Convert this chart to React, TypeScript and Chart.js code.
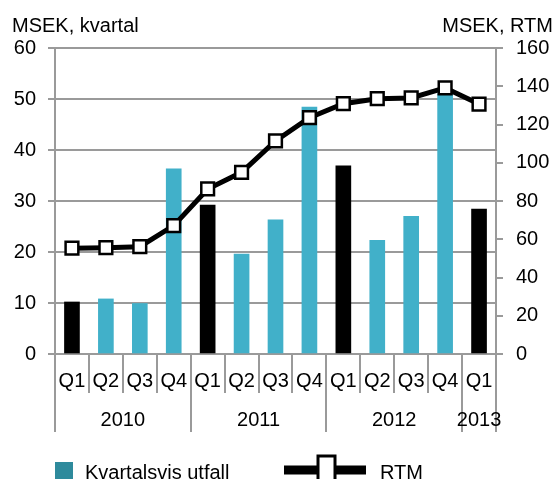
import React, { useEffect, useRef } from "react";
import { Chart, registerables } from "chart.js";

Chart.register(...registerables);

const quarters = ["Q1", "Q2", "Q3", "Q4", "Q1", "Q2", "Q3", "Q4", "Q1", "Q2", "Q3", "Q4", "Q1"];
const years = ["2010", "2011", "2012", "2013"];
const yearStarts = [0, 4, 8, 12];
const yearEnds = [4, 8, 12, 13];
const quarterly = [10.2, 10.8, 9.9, 36.3, 29.2, 19.6, 26.3, 48.4, 36.9, 22.3, 27.0, 51.0, 28.4];
const rtm = [55.3, 55.6, 56.1, 67.1, 86.3, 95.0, 111.4, 123.6, 130.9, 133.5, 133.9, 139.1, 130.7];
const leftTicks = { min: 0, max: 60, step: 10 };
const rightTicks = { min: 0, max: 160, step: 20 };
const legendLabels = ["Kvartalsvis utfall", "RTM"];
const axisTitles = ["MSEK, kvartal", "MSEK, RTM"];

const FONT = '"Liberation Sans", Arial, sans-serif';
const GRID = "#9a9a9a";
const BLUE = "#41b0c9";
const LEGEND_TEAL = "#2e8a9c";

export default function App() {
  const ref = useRef<HTMLCanvasElement | null>(null);

  useEffect(() => {
    if (!ref.current) return;
    const decor = {
      id: "decor",
      afterDraw(chart: any) {
        const ctx = chart.ctx as CanvasRenderingContext2D;
        const x = chart.scales.x;
        const area = chart.chartArea;
        const n = quarters.length;
        const w = (area.right - area.left) / n;
        const bound = (i: number) => area.left + i * w;
        ctx.save();
        ctx.strokeStyle = GRID;
        ctx.lineWidth = 2;
        const yearBounds = new Set<number>([0, ...yearEnds]);
        for (let i = 0; i <= n; i++) {
          const bx = Math.round(bound(i));
          ctx.beginPath();
          ctx.moveTo(bx, area.bottom);
          ctx.lineTo(bx, yearBounds.has(i) ? 432 : 393);
          ctx.stroke();
        }
        ctx.fillStyle = "#000";
        ctx.font = `20px ${FONT}`;
        ctx.textAlign = "center";
        ctx.textBaseline = "middle";
        quarters.forEach((q, i) => {
          ctx.fillText(q, x.getPixelForValue(i), 381);
        });
        years.forEach((yv, k) => {
          let cx;
          if (yearEnds[k] - yearStarts[k] === 1) cx = x.getPixelForValue(yearStarts[k]);
          else cx = (bound(yearStarts[k]) + bound(yearEnds[k])) / 2;
          ctx.fillText(yv, cx, 420);
        });
        // axis titles
        ctx.textBaseline = "alphabetic";
        ctx.textAlign = "left";
        ctx.fillText(axisTitles[0], 12, 32);
        ctx.textAlign = "right";
        ctx.fillText(axisTitles[1], 553, 32);
        // legend
        ctx.textAlign = "left";
        ctx.fillStyle = LEGEND_TEAL;
        ctx.fillRect(55, 462, 18, 18);
        ctx.fillStyle = "#000";
        ctx.fillText(legendLabels[0], 85, 479);
        ctx.strokeStyle = "#000";
        ctx.lineWidth = 9;
        ctx.beginPath();
        ctx.moveTo(284, 470);
        ctx.lineTo(366, 470);
        ctx.stroke();
        ctx.fillStyle = "#fff";
        ctx.lineWidth = 3;
        ctx.fillRect(318, 456, 17, 26);
        ctx.strokeRect(318, 456, 17, 26);
        ctx.fillStyle = "#000";
        ctx.fillText(legendLabels[1], 380, 479);
        ctx.restore();
      },
    };

    const chart = new Chart(ref.current, {
      type: "bar",
      data: {
        labels: quarters.map((q, i) => `${q}-${i}`),
        datasets: [
          {
            type: "line",
            label: legendLabels[1],
            data: rtm,
            yAxisID: "y1",
            borderColor: "#000",
            borderWidth: 5,
            pointStyle: "rect",
            pointRadius: 9,
            pointBorderWidth: 2.5,
            pointBackgroundColor: "#fff",
            pointBorderColor: "#000",
            order: 0,
          } as any,
          {
            type: "bar",
            label: legendLabels[0],
            data: quarterly,
            yAxisID: "y",
            backgroundColor: quarters.map((q) => (q === "Q1" ? "#000" : BLUE)),
            barThickness: 15,
            order: 1,
          },
        ],
      },
      plugins: [decor],
      options: {
        responsive: false,
        animation: false,
        layout: { padding: { top: 48, left: 0, right: 0, bottom: 0 } },
        plugins: { legend: { display: false }, tooltip: { enabled: false }, title: { display: false } },
        scales: {
          x: {
            ticks: { display: false },
            grid: { display: false },
            border: { display: false },
            afterFit: (s: any) => {
              s.height = 125;
            },
          },
          y: {
            position: "left",
            min: leftTicks.min,
            max: leftTicks.max,
            ticks: { stepSize: leftTicks.step, color: "#000", font: { family: FONT, size: 20 }, padding: 12 },
            grid: { color: GRID, lineWidth: 2, tickLength: 7, drawTicks: true },
            border: { display: true, color: GRID, width: 2 },
            afterFit: (s: any) => {
              s.width = 55;
            },
          },
          y1: {
            position: "right",
            min: rightTicks.min,
            max: rightTicks.max,
            ticks: { stepSize: rightTicks.step, color: "#000", font: { family: FONT, size: 20 }, padding: 13 },
            grid: { color: GRID, lineWidth: 2, tickLength: 7, drawOnChartArea: false, drawTicks: true },
            border: { display: true, color: GRID, width: 2 },
            afterFit: (s: any) => {
              s.width = 61;
            },
          },
        },
      },
    });
    return () => chart.destroy();
  }, []);

  return (
    <div style={{ position: "fixed", left: 0, top: 0, width: 557, height: 479, background: "#fff" }}>
      <canvas ref={ref} width={557} height={479} style={{ width: 557, height: 479 }} />
    </div>
  );
}
